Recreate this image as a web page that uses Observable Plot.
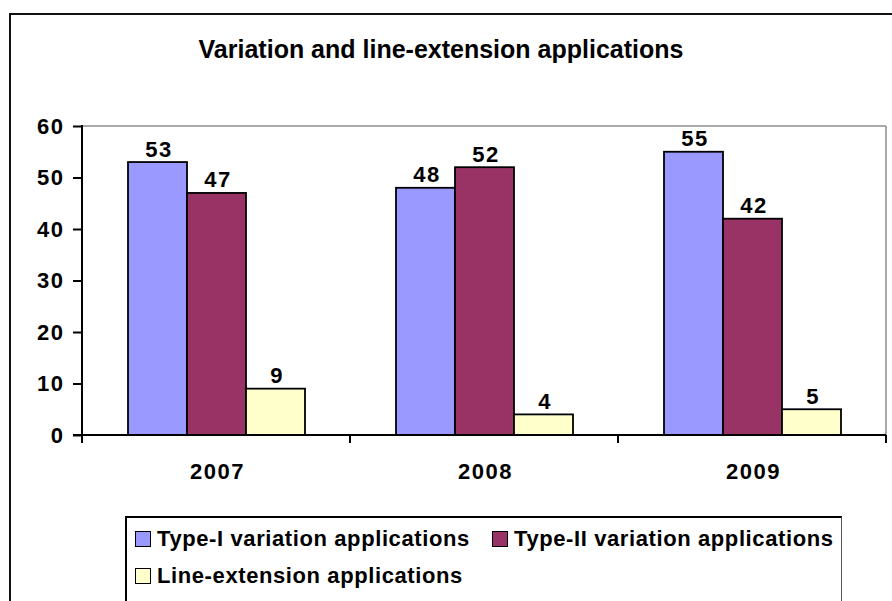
<!DOCTYPE html>
<html><head><meta charset="utf-8">
<script src="https://cdn.jsdelivr.net/npm/d3@7"></script>
<script src="https://cdn.jsdelivr.net/npm/@observablehq/plot@0.6"></script>
<style>
html,body{margin:0;padding:0;background:#fff;overflow:hidden;}
#wrap{position:relative;width:892px;height:601px;overflow:hidden;font-family:"Liberation Sans",Arial,sans-serif;font-weight:bold;color:#000;}
#border{position:absolute;left:9px;top:13px;width:1000px;height:1000px;border-left:2px solid #111;border-top:2px solid #111;}
#title{position:absolute;left:0;width:882px;top:35px;line-height:28px;text-align:center;font-size:25px;white-space:nowrap;}
#chart{position:absolute;left:0;top:0;}
#legend{position:absolute;left:125px;top:516px;width:714px;height:200px;border-left:2px solid #000;border-top:2px solid #000;border-right:1px solid #555;background:#fff;}
.item{position:absolute;display:flex;align-items:center;font-size:22px;line-height:22px;letter-spacing:0.6px;white-space:nowrap;}
.sw{width:14px;height:14px;border:1.5px solid #000;margin-right:6px;}
</style>
</head><body>
<div id="wrap">
  <div id="border"></div>
  <div id="chart"></div>
  <div id="title"></div>
  <div id="legend"></div>
</div>
<script>
const title = "Variation and line-extension applications";
const years = ["2007", "2008", "2009"];
const seriesNames = ["Type-I variation applications", "Type-II variation applications", "Line-extension applications"];
const typeI = [53, 48, 55];
const typeII = [47, 52, 42];
const lineExt = [9, 4, 5];
const colors = ["#9999FF", "#993366", "#FFFFCC"];
const yTicks = [0, 10, 20, 30, 40, 50, 60];

const seriesValues = [typeI, typeII, lineExt];
const rows = [];
years.forEach((yr, i) => seriesNames.forEach((s, j) => rows.push({year: yr, series: s, value: seriesValues[j][i]})));

let chromeDone = false;
function chrome(index, scales, values, dims) {
  if (chromeDone) return null;
  chromeDone = true;
  const {fx, x, y} = scales;
  const off = x.range()[0] - fx(years[0]);
  const bw = fx.bandwidth();
  const left = fx(years[0]) + off;
  const right = fx(years[years.length - 1]) + bw + off;
  const y0 = y(yTicks[0]), y1 = y(yTicks[yTicks.length - 1]);
  const g = d3.create("svg:g");
  const line = (x1, y1_, x2, y2, stroke, w) =>
    g.append("line").attr("x1", x1).attr("y1", y1_).attr("x2", x2).attr("y2", y2)
      .attr("stroke", stroke).attr("stroke-width", w);
  line(left, y1, right, y1, "#8c8c8c", 1.5);
  line(right, y1, right, y0, "#8c8c8c", 1.5);
  line(left, y1 - 1, left, y0 + 8, "#000", 2);
  line(left - 9, y0, right, y0, "#000", 2);
  years.forEach(yr => {
    line(fx(yr) + off, y0, fx(yr) + off, y0 + 8, "#000", 2);
  });
  line(right, y0, right, y0 + 8, "#000", 2);
  return g.node();
}

const chart = Plot.plot({
  width: 892,
  height: 601,
  marginLeft: 82,
  marginRight: 6,
  marginTop: 126,
  marginBottom: 166,
  style: {fontFamily: '"Liberation Sans", Arial, sans-serif', fontSize: "22px", fontWeight: "bold", letterSpacing: "1.5px", color: "#000", background: "transparent", overflow: "visible"},
  fx: {domain: years, padding: 0, label: null},
  x: {domain: seriesNames, paddingInner: 0, paddingOuter: 0.75, axis: null},
  y: {domain: [0, 60], label: null},
  color: {domain: seriesNames, range: colors},
  marks: [
    Plot.barY(rows, {fx: "year", x: "series", y: "value", fill: "series", stroke: "#000", strokeWidth: 1.8}),
    Plot.text(rows, {fx: "year", x: "series", y: "value", text: d => String(d.value), dy: -13, dx: 1, fontSize: 22, fontWeight: "bold", fill: "#000"}),
    Plot.axisY({ticks: yTicks, tickSize: 9, tickPadding: 9, label: null, fontSize: 22, strokeWidth: 2, stroke: "#000"}),
    Plot.axisFx({anchor: "bottom", tickSize: 0, tickPadding: 28, label: null, fontSize: 22, dx: 1}),
    chrome
  ]
});
document.getElementById("chart").appendChild(chart);
document.getElementById("title").textContent = title;

const legend = d3.select("#legend");
const itemPos = [[8, 10], [365, 10], [8, 47]];
seriesNames.forEach((s, i) => {
  const it = legend.append("div").attr("class", "item").style("left", itemPos[i][0] + "px").style("top", itemPos[i][1] + "px");
  it.append("div").attr("class", "sw").style("background", colors[i]);
  it.append("span").text(s);
});
</script>
</body></html>
